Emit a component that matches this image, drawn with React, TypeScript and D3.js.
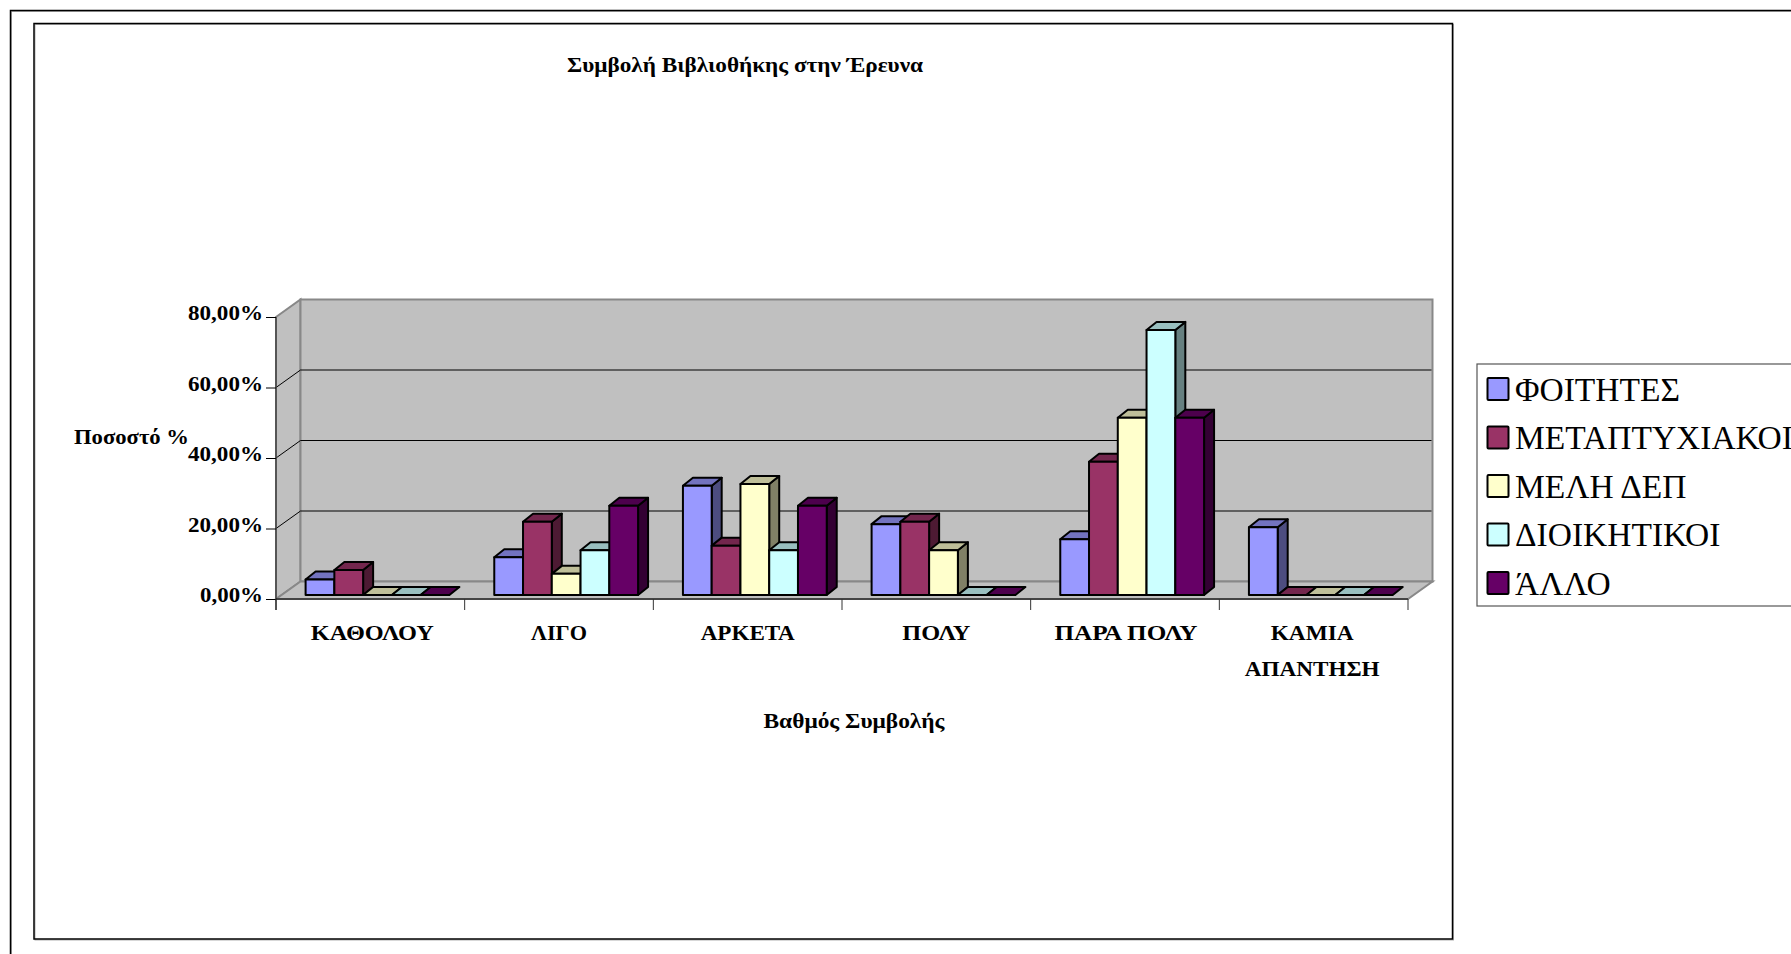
import React, { useEffect, useRef } from 'react';
import * as d3 from 'd3';

const categories = ['ΚΑΘΟΛΟΥ', 'ΛΙΓΟ', 'ΑΡΚΕΤΑ', 'ΠΟΛΥ', 'ΠΑΡΑ ΠΟΛΥ', 'ΚΑΜΙΑ ΑΠΑΝΤΗΣΗ'];
const seriesNames = ['ΦΟΙΤΗΤΕΣ', 'ΜΕΤΑΠΤΥΧΙΑΚΟΙ', 'ΜΕΛΗ ΔΕΠ', 'ΔΙΟΙΚΗΤΙΚΟΙ', 'ΆΛΛΟ'];
const seriesColours = ['#9999ff', '#993366', '#ffffcc', '#ccffff', '#660066'];

const foitites = [4.4, 10.7, 31, 20.1, 15.8, 19.2];
const metaptyxiakoi = [7.1, 20.8, 14, 20.8, 37.8, 0];
const meliDep = [0, 6, 31.5, 12.7, 50.3, 0];
const dioikitikoi = [0, 12.7, 12.7, 0, 75.2, 0];
const allo = [0, 25.3, 25.3, 0, 50.3, 0];
const seriesValues = [foitites, metaptyxiakoi, meliDep, dioikitikoi, allo];

const yTicks = [0, 20, 40, 60, 80];

const serif = '"Liberation Serif", serif';

export default function App() {
  const svgRef = useRef<SVGSVGElement | null>(null);

  useEffect(() => {
    const svg = d3.select(svgRef.current);
    svg.selectAll('*').remove();

    // plot box in page pixels
    const left = 276;
    const right = 1408;
    const top = 317;
    const bottom = 599;
    const depthX = 24.5;
    const depthY = 17.5;

    const frame = (x: number, y: number, w: number, h: number) => {
      svg.append('rect').attr('x', x + 1).attr('y', y + 1).attr('width', w).attr('height', h)
        .attr('fill', 'none').attr('stroke', '#b0b0b0').attr('stroke-width', 1);
      svg.append('rect').attr('x', x).attr('y', y).attr('width', w).attr('height', h)
        .attr('fill', 'none').attr('stroke', '#000').attr('stroke-width', 1.5);
    };
    frame(10.5, 10.5, 1800, 1000);
    frame(34, 23.5, 1418.5, 915.5);

    const yScale = d3.scaleLinear().domain([0, 80]).range([bottom, top]);
    const xScale = d3.scaleBand<string>().domain(categories).range([left, right]);

    // walls and floor
    const wallLine = d3.line();
    const wall = svg.append('g');
    const polygons: [number, number][][] = [
      [[left, top], [left + depthX, top - depthY], [left + depthX, bottom - depthY], [left, bottom]],
      [[left + depthX, top - depthY], [right + depthX, top - depthY], [right + depthX, bottom - depthY], [left + depthX, bottom - depthY]],
      [[left, bottom], [left + depthX, bottom - depthY], [right + depthX, bottom - depthY], [right, bottom]],
    ];
    polygons.forEach((p) => {
      wall.append('path').attr('d', wallLine(p) + 'Z').attr('fill', '#c0c0c0')
        .attr('stroke', '#888').attr('stroke-width', 2).attr('stroke-linejoin', 'miter');
    });

    // gridlines run over the side wall and then across the back
    yTicks.slice(1, -1).forEach((t) => {
      const y = yScale(t);
      svg.append('path')
        .attr('d', wallLine([[left, y], [left + depthX, y - depthY], [right + depthX - 1, y - depthY]]))
        .attr('fill', 'none').attr('stroke', '#000').attr('stroke-width', 1);
    });

    // bars
    const groupStart = 29.6;
    const groupWidth = 143.8;
    const barScale = d3.scaleBand<number>().domain(d3.range(seriesNames.length))
      .range([groupStart, groupStart + groupWidth]);
    const barW = barScale.bandwidth();
    const barBase = bottom - 4;
    const barDx = 10;
    const barDy = 8;
    const barLine = d3.line();
    const barsG = svg.append('g').attr('stroke', '#000').attr('stroke-width', 2).attr('stroke-linejoin', 'round');

    categories.forEach((cat, c) => {
      seriesValues.forEach((vals, s) => {
        const v = vals[c];
        const x0 = (xScale(cat) as number) + (barScale(s) as number);
        const x1 = x0 + barW;
        const yTop = barBase - (bottom - yScale(v));
        const base = d3.color(seriesColours[s]) as d3.RGBColor;
        const topFill = d3.rgb(base.r * 0.75, base.g * 0.75, base.b * 0.75).formatHex();
        const sideFill = d3.rgb(base.r * 0.5, base.g * 0.5, base.b * 0.5).formatHex();
        if (v > 0) {
          barsG.append('path').attr('fill', sideFill)
            .attr('d', barLine([[x1, yTop], [x1 + barDx, yTop - barDy], [x1 + barDx, barBase - barDy], [x1, barBase]]) + 'Z');
        }
        barsG.append('path').attr('fill', topFill)
          .attr('d', barLine([[x0, yTop], [x0 + barDx, yTop - barDy], [x1 + barDx, yTop - barDy], [x1, yTop]]) + 'Z');
        if (v > 0) {
          barsG.append('rect').attr('x', x0).attr('y', yTop).attr('width', barW).attr('height', barBase - yTop)
            .attr('fill', seriesColours[s]);
        }
      });
    });

    // axes
    const yAxis = d3.axisLeft(yScale).tickValues(yTicks).tickSize(10).tickPadding(3)
      .tickFormat((d) => `${(d as number).toFixed(2).replace('.', ',')}%`);
    const yG = svg.append('g').attr('transform', `translate(${left},0)`).call(yAxis);
    yG.select('.domain').attr('stroke', '#444').attr('stroke-width', 1.5).attr('d', `M0,${top}V${bottom + 11}`);
    yG.selectAll('.tick line').attr('stroke', '#000').attr('stroke-width', 1);
    yG.selectAll('.tick text').attr('font-family', serif).attr('font-weight', 'bold').attr('font-size', 22)
      .attr('fill', '#000').attr('dy', '0.12em')
      .attr('textLength', (d) => ((d as number) === 0 ? 63 : 75)).attr('lengthAdjust', 'spacingAndGlyphs');

    const boundaries = d3.range(categories.length + 1).map((i) => left + i * xScale.bandwidth());
    svg.append('path').attr('d', `M${left},${bottom}H${right}`).attr('stroke', '#000').attr('stroke-width', 1.2).attr('fill', 'none');
    boundaries.forEach((x) => {
      svg.append('path').attr('d', `M${x},${bottom}V${bottom + 11}`).attr('stroke', '#333').attr('stroke-width', 1);
    });

    // the original face is wider than Liberation Serif, so each label gets its measured width
    const bold = (x: number, y: number, t: string, w: number, anchor = 'middle') =>
      svg.append('text').attr('x', x).attr('y', y).attr('text-anchor', anchor)
        .attr('font-family', serif).attr('font-weight', 'bold').attr('font-size', 22).attr('fill', '#000')
        .attr('textLength', w).attr('lengthAdjust', 'spacingAndGlyphs').text(t);

    const mids = categories.map((c) => (xScale(c) as number) + xScale.bandwidth() / 2);
    bold(mids[0] + 2, 640, categories[0], 123);
    bold(mids[1], 640, categories[1], 56);
    bold(mids[2], 640, categories[2], 94);
    bold(mids[3], 640, categories[3], 68);
    bold(mids[4] + 1, 640, categories[4], 143);
    bold(mids[5] - 1.5, 640, 'ΚΑΜΙΑ', 83);
    bold(mids[5] - 1.5, 676, 'ΑΠΑΝΤΗΣΗ', 135);

    bold(745, 72, 'Συμβολή Βιβλιοθήκης στην Έρευνα', 356);
    bold(854, 728, 'Βαθμός Συμβολής', 181);
    bold(74, 444, 'Ποσοστό %', 115, 'start');

    // legend
    svg.append('rect').attr('x', 1477).attr('y', 364).attr('width', 330).attr('height', 242)
      .attr('fill', '#fff').attr('stroke', '#555').attr('stroke-width', 1.2);
    const legendY = d3.scalePoint<string>().domain(seriesNames).range([389, 583]);
    seriesNames.forEach((name, i) => {
      const y = legendY(name) as number;
      svg.append('rect').attr('x', 1487.5).attr('y', y - 11).attr('width', 21).attr('height', 22)
        .attr('fill', seriesColours[i]).attr('stroke', '#000').attr('stroke-width', 2).attr('rx', 1);
      svg.append('text').attr('x', 1515).attr('y', y + 11.5).attr('font-family', serif)
        .attr('font-size', 33.5).attr('fill', '#000').text(name);
    });
  }, []);

  return (
    <svg
      ref={svgRef}
      width={1791}
      height={954}
      style={{ position: 'fixed', left: 0, top: 0, background: '#fff', display: 'block' }}
    />
  );
}
